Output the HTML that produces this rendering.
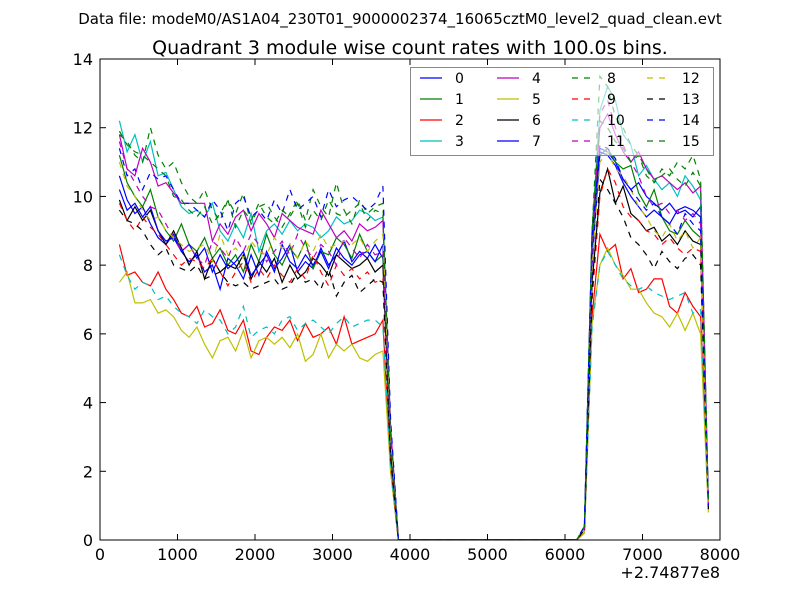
<!DOCTYPE html>
<html><head><meta charset="utf-8"><style>
body{margin:0;background:#fff;}
svg text{font-family:"DejaVu Sans","Liberation Sans",sans-serif;}
</style></head><body>
<svg id="chart" width="800" height="600" xmlns="http://www.w3.org/2000/svg">
<rect width="800" height="600" fill="#fff"/>
<text x="400" y="24" font-size="15" text-anchor="middle">Data file: modeM0/AS1A04_230T01_9000002374_16065cztM0_level2_quad_clean.evt</text>
<text x="410" y="54" font-size="19" text-anchor="middle">Quadrant 3 module wise count rates with 100.0s bins.</text>
<g id="lines"></g>
<g id="axes"></g>
<g id="legend"></g>
</svg>
<script>
const segA = [
[10.6,9.9,9.5,9.7,9.2,8.8,8.6,8.9,8.4,8.1,8.3,7.8,8.0,7.3,8.2,8.0,7.6,8.3,7.7,8.4,7.9,8.2,8.6,7.8,8.1,7.9,8.5,8.0,8.3,8.7,8.1,8.4,8.2,8.6,8.2],
[11.2,10.4,10.0,9.7,10.2,9.4,9.0,8.7,9.2,8.6,8.4,8.8,8.2,8.5,8.0,8.3,7.8,8.6,8.1,8.9,8.3,8.0,8.5,8.2,8.7,7.9,8.4,8.3,8.8,8.6,8.2,8.9,8.4,8.1,8.3],
[8.6,7.7,7.8,7.5,7.4,7.8,7.3,7.0,6.6,6.5,6.8,6.2,6.3,6.7,6.1,6.0,6.4,5.5,5.4,5.9,6.2,6.1,6.4,5.8,6.3,5.9,6.0,6.2,5.7,6.5,5.7,5.8,5.9,6.0,6.4],
[12.2,11.3,11.8,11.0,11.6,10.6,10.7,10.2,9.7,9.5,9.6,9.4,9.8,9.0,8.7,9.2,8.8,9.5,8.4,9.0,9.2,8.9,9.3,9.0,9.2,9.1,8.8,9.0,9.4,9.2,9.3,9.6,9.5,9.3,9.4],
[11.8,10.8,10.6,11.4,11.0,10.3,10.4,10.1,9.8,9.8,9.8,9.8,8.7,9.2,8.9,9.4,9.6,9.0,9.5,9.2,8.8,9.5,9.3,9.1,9.0,8.9,9.6,9.2,8.8,9.0,8.7,9.2,9.0,9.1,9.3],
[7.5,7.8,6.9,6.9,7.0,6.6,6.7,6.5,6.1,5.9,6.2,5.7,5.3,5.8,5.9,5.5,6.1,5.3,5.8,5.9,5.7,5.9,5.6,6.0,5.2,5.4,6.0,5.3,5.7,5.5,5.7,5.3,5.2,5.4,5.5],
[9.9,9.3,9.7,9.3,9.6,9.0,8.6,9.0,8.5,8.0,8.4,7.6,8.2,7.8,8.0,7.9,8.3,7.6,8.1,7.8,8.2,7.5,8.0,7.6,7.8,8.2,8.0,7.7,8.3,8.1,7.9,8.0,8.2,7.8,8.0],
[10.2,9.6,9.8,9.4,9.7,9.0,8.7,8.8,8.4,8.6,8.2,8.5,7.8,8.3,7.9,8.1,8.4,7.7,8.0,8.3,7.8,8.6,8.1,7.9,8.3,8.0,8.4,7.9,8.5,8.2,8.0,8.3,8.4,8.1,8.6],
[11.8,11.6,11.2,11.0,12.0,11.2,10.8,11.0,10.4,10.0,9.8,10.2,9.6,9.3,9.9,9.5,10.1,9.2,9.7,9.8,9.4,9.1,9.5,9.9,9.3,10.2,9.7,9.4,10.4,9.6,9.2,9.9,9.5,9.7,9.8],
[9.8,9.3,9.0,9.4,9.1,8.9,8.6,8.3,8.0,8.2,8.1,7.9,8.2,7.8,7.4,7.8,8.1,7.5,7.9,7.6,8.0,7.7,7.5,7.9,7.6,8.3,7.8,7.4,8.0,7.7,7.9,7.6,7.8,7.5,7.6],
[8.3,7.7,7.3,7.5,7.4,7.0,7.1,6.8,6.6,6.5,6.3,6.7,6.5,6.4,6.0,6.2,6.8,5.9,6.1,6.2,6.0,6.4,6.5,6.1,6.3,6.4,6.2,6.0,6.3,6.5,6.2,6.3,6.4,6.4,6.2],
[11.6,10.8,10.4,10.0,9.7,9.6,9.2,8.8,8.4,8.6,8.2,8.0,8.7,8.5,8.2,8.8,8.4,8.9,8.6,8.1,8.4,8.7,8.3,8.9,8.5,8.2,8.6,8.4,8.0,8.8,8.5,8.2,8.6,8.3,8.4],
[11.0,10.3,10.0,9.6,9.3,9.4,9.0,8.8,8.6,8.4,8.5,8.6,8.1,8.9,8.3,8.5,8.2,8.7,8.4,8.3,8.8,8.5,8.6,8.2,8.7,8.4,8.9,8.5,8.6,8.7,8.6,8.8,8.4,8.7,8.9],
[9.6,9.3,9.2,9.0,8.6,8.3,8.5,8.0,7.9,7.8,8.0,7.6,7.7,7.8,7.5,7.4,7.5,7.3,7.4,7.5,7.6,7.3,7.4,7.8,7.5,7.6,7.3,7.9,7.1,7.5,7.7,7.2,7.4,7.6,7.5],
[11.4,10.6,10.8,10.2,10.7,10.5,10.6,10.2,9.8,9.8,9.6,9.4,9.9,9.6,9.0,9.8,10.0,9.4,9.6,9.3,9.9,9.5,10.2,9.6,9.8,10.0,9.4,10.2,9.7,9.9,10.0,9.8,9.6,9.8,10.3],
[11.9,11.5,11.3,11.2,11.0,10.8,10.6,10.0,9.9,9.6,9.4,9.7,9.2,9.5,9.9,9.1,9.6,9.3,9.8,9.4,9.2,9.6,9.4,9.8,9.1,9.6,9.3,9.9,9.5,9.4,9.6,9.8,9.3,9.6,9.5]
];
const dropVals = [3.0,2.5,2.0,3.2,3.3,2.0,2.6,2.8,3.4,2.2,2.1,2.8,3.0,2.4,3.5,3.0];
const gapVals = [0,0,0,0,0,0,0,0,0,0,0,0,0,0,0,0,0,0,0,0,0,0,0,0];
const riseVals = [0.3,0.3,0.2,0.3,0.3,0.2,0.3,0.3,0.4,0.3,0.3,0.3,0.3,0.3,0.4,0.4];
const segB = [
[9,11.4,11.3,11.0,10.5,10.2,10.4,10.0,9.8,9.6,9.8,9.5,9.6,9.4,9.7],
[8.5,11.2,11.4,11.0,10.8,10.9,10.1,9.7,10.2,9.4,9.0,8.9,9.3,9.0,8.8],
[6.5,8.9,8.4,8.6,7.6,7.9,7.2,7.3,7.6,7.6,6.8,6.6,7.2,6.8,6.5],
[9,12.5,13.2,12.8,11.8,11.5,10.6,10.9,10.5,10.2,10.4,10.0,10.6,10.3,9.9],
[9,12.0,12.4,11.8,11.3,11.0,11.3,10.8,10.5,10.6,10.4,10.2,10.4,10.1,10.3],
[6.3,8.0,8.5,8.0,7.7,7.3,7.3,6.9,6.6,6.5,6.2,6.6,6.1,6.6,6.0],
[7.5,10.1,10.8,9.8,10.3,9.5,9.3,9.0,9.1,8.7,8.9,8.6,9.0,8.7,8.6],
[8,11.3,11.2,10.9,10.4,10.0,9.7,9.4,9.6,9.4,9.2,9.6,9.7,9.6,9.4],
[9,13.5,13.2,12.3,12.0,11.5,11.2,10.8,10.4,10.6,10.8,10.5,10.3,10.7,10.3],
[7,10.0,10.8,10.4,9.7,9.4,9.3,9.0,8.9,8.6,8.8,8.5,8.3,8.5,8.4],
[6.2,8.0,8.4,8.0,7.6,7.4,7.3,7.4,7.2,7.1,7.0,7.1,7.2,6.6,6.7],
[8.5,12.4,12.8,12.0,11.5,11.0,10.6,10.0,9.7,9.8,9.5,9.6,9.3,9.5,9.2],
[8,11.0,11.3,10.8,10.6,10.2,9.7,9.4,9.0,8.8,9.2,8.7,9.0,8.5,8.8],
[7.2,10.5,10.2,9.8,9.4,8.8,8.6,8.3,7.9,8.4,8.1,7.9,8.2,8.3,8.0],
[8.8,11.5,11.4,11.1,10.5,10.2,9.9,9.6,9.8,9.4,9.2,8.9,9.5,9.2,9.0],
[9,12.2,12.0,11.6,11.4,11.0,11.2,10.6,10.4,10.8,10.6,11.0,10.8,11.2,10.5]
];
const endVals = [1.0,1.0,0.9,1.1,1.1,0.8,1.0,1.0,1.0,0.9,0.9,1.0,0.9,0.9,1.0,1.0];
const seriesNames = ["0","1","2","3","4","5","6","7","8","9","10","11","12","13","14","15"];
const xTicks = [0,1000,2000,3000,4000,5000,6000,7000,8000];
const yTicks = [0,2,4,6,8,10,12,14];
const colors = ["#0000ff","#008000","#ff0000","#00bfbf","#bf00bf","#bfbf00","#000000"];

const L=100,R=720,T=59,B=540,XMAX=8000,YMAX=14;
const sx=v=>L+(v/XMAX)*(R-L);
const sy=v=>B-(v/YMAX)*(B-T);
const NS="http://www.w3.org/2000/svg";
function mk(tag,attrs,parent){const e=document.createElementNS(NS,tag);for(const k in attrs)e.setAttribute(k,attrs[k]);parent.appendChild(e);return e;}

const gl=document.getElementById('lines');
const clip=mk('clipPath',{id:'pc'},document.getElementById('chart'));
mk('rect',{x:L,y:T,width:R-L,height:B-T},clip);
gl.setAttribute('clip-path','url(#pc)');
for(let s=0;s<16;s++){
  const vals=segA[s].concat([dropVals[s]],gapVals,[riseVals[s]],segB[s],[endVals[s]]);
  const pts=vals.map((v,i)=>sx(250+100*i).toFixed(1)+','+sy(v).toFixed(1)).join(' ');
  const p=mk('polyline',{points:pts,fill:'none',stroke:colors[s%7],'stroke-width':1.2},gl);
  if(s>=8)p.setAttribute('stroke-dasharray','6,6');
  
  
}

const ga=document.getElementById('axes');
const frame=mk('rect',{x:L,y:T,width:R-L,height:B-T,fill:'none',stroke:'#000','stroke-width':1},ga);


xTicks.forEach(v=>{
  const x=sx(v);
  mk('line',{x1:x,x2:x,y1:B,y2:B-6,stroke:'#000'},ga);
  mk('line',{x1:x,x2:x,y1:T,y2:T+6,stroke:'#000'},ga);
  const t=mk('text',{x:x,y:B+20,'font-size':16,'text-anchor':'middle'},ga);
  t.textContent=v;
  
  
});
yTicks.forEach(v=>{
  const y=sy(v);
  mk('line',{x1:L,x2:L+6,y1:y,y2:y,stroke:'#000'},ga);
  mk('line',{x1:R,x2:R-6,y1:y,y2:y,stroke:'#000'},ga);
  const t=mk('text',{x:L-7,y:y+6,'font-size':16,'text-anchor':'end'},ga);
  t.textContent=v;
  
  
});
const off=mk('text',{x:R,y:578,'font-size':16,'text-anchor':'end'},ga);
off.textContent='+2.74877e8';



const lg=document.getElementById('legend');


mk('rect',{x:410.5,y:67.5,width:303,height:88,fill:'#fff','fill-opacity':0.6,stroke:'#888','stroke-width':1},lg);
const colX=[420,497,572,647], rowY=[78,99,120,141];
for(let s=0;s<16;s++){
  const cx=colX[Math.floor(s/4)], cy=rowY[s%4];
  const g=mk('g',{},lg);
  
  
  const ln=mk('line',{x1:cx,x2:cx+22,y1:cy,y2:cy,stroke:colors[s%7],'stroke-width':1.2},g);
  if(s>=8)ln.setAttribute('stroke-dasharray','6,6');
  const t=mk('text',{x:cx+35,y:cy+5,'font-size':14},g);
  t.textContent=seriesNames[s];
}
</script>
</body></html>
